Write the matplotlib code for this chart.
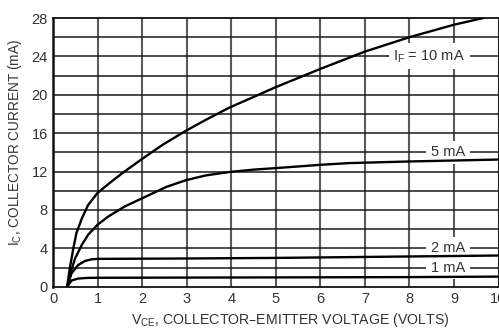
import matplotlib
matplotlib.use("Agg")
import matplotlib.pyplot as plt

plt.rcParams['font.family'] = ['Liberation Sans', 'DejaVu Sans']

# Curve data (V_CE in volts, I_C in mA)
v_10ma = [0.31, 0.37, 0.45, 0.52, 0.64, 0.78, 0.99, 1.25, 1.57, 1.99, 2.46, 2.96, 3.43, 3.95, 5.0, 6.0, 7.0, 8.0, 9.0, 9.66]
i_10ma = [0.0, 1.9, 4.0, 5.6, 7.1, 8.5, 9.75, 10.75, 11.9, 13.3, 14.8, 16.2, 17.4, 18.65, 20.8, 22.7, 24.5, 26.0, 27.3, 28.0]

v_5ma = [0.31, 0.37, 0.49, 0.64, 0.78, 0.99, 1.23, 1.6, 1.99, 2.54, 2.98, 3.43, 3.95, 4.5, 5.0, 6.0, 6.64, 8.0, 9.0, 10.0]
i_5ma = [0.0, 1.2, 2.96, 4.35, 5.4, 6.44, 7.3, 8.35, 9.2, 10.4, 11.1, 11.6, 11.95, 12.2, 12.36, 12.7, 12.88, 13.05, 13.15, 13.25]

v_2ma = [0.31, 0.41, 0.56, 0.71, 0.86, 1.0, 2.0, 3.0, 4.0, 5.0, 6.0, 7.0, 8.0, 9.0, 10.0]
i_2ma = [0.0, 1.4, 2.26, 2.68, 2.85, 2.9, 2.92, 2.94, 2.97, 3.0, 3.05, 3.1, 3.15, 3.2, 3.25]

v_1ma = [0.31, 0.41, 0.56, 0.78, 1.0, 2.0, 4.0, 6.0, 8.0, 10.0]
i_1ma = [0.0, 0.65, 0.85, 0.92, 0.93, 0.94, 0.96, 0.98, 1.0, 1.05]

x_ticks = [0, 1, 2, 3, 4, 5, 6, 7, 8, 9, 10]
y_ticks = [0, 4, 8, 12, 16, 20, 24, 28]
y_grid = [2, 4, 6, 8, 10, 12, 14, 16, 18, 20, 22, 24, 26]

curve_labels = [r'$\mathregular{I_F}$ = 10 mA', '5 mA', '2 mA', '1 mA']
label_y = [24, 14, 4, 2]
label_x = 9.25

W, H = 499, 334
fig = plt.figure(figsize=(W / 100, H / 100), dpi=100)
ax = fig.add_axes([53.3 / W, (H - 286.7) / H, 445.2 / W, 268.7 / H])

ax.set_xlim(0, 10)
ax.set_ylim(0, 28)

txt_color = '#333333'

for v in x_ticks[1:]:
    ax.axvline(v, color='#5a5a5a', lw=1.5, zorder=1)
for y in y_grid:
    ax.axhline(y, color='#1a1a1a', lw=1.1, zorder=1)

for s in ax.spines.values():
    s.set_color('#111111')
    s.set_linewidth(1.3)
ax.spines['left'].set_linewidth(1.8)

for vv, ii in [(v_10ma, i_10ma), (v_5ma, i_5ma), (v_2ma, i_2ma), (v_1ma, i_1ma)]:
    ax.plot(vv, ii, color='black', lw=1.7, zorder=4, solid_capstyle='round', solid_joinstyle='round')

for lab, ly in zip(curve_labels, label_y):
    ax.text(label_x, ly, lab, ha='right', va='center', fontsize=10.5, color=txt_color,
            zorder=3, bbox=dict(facecolor='white', edgecolor='none', pad=3.5))

ax.set_xticks(x_ticks)
ax.set_yticks(y_ticks)
ax.tick_params(length=0, pad=4, labelsize=10.5, labelcolor=txt_color)

fig.text(290 / W, 1 - 320 / H, r'$\mathregular{V_{CE}}$, COLLECTOR–EMITTER VOLTAGE (VOLTS)',
         ha='center', va='center', fontsize=10.2, color=txt_color)
fig.text(15 / W, 1 - 143 / H, r'$\mathregular{I_C}$, COLLECTOR CURRENT (mA)',
         ha='center', va='center', rotation=90, fontsize=9.8, color=txt_color)

fig.savefig('out.png', dpi=100)
